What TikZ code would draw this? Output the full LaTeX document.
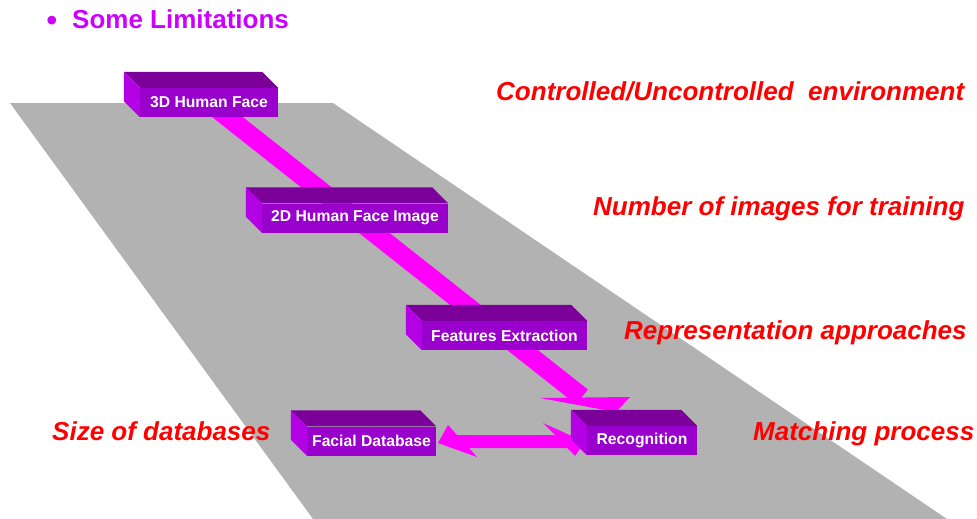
\documentclass[tikz,border=0pt]{standalone}
\usepackage{fontspec}
\setmainfont{Liberation Sans}
\usetikzlibrary{calc}
\definecolor{plane}{RGB}{178,178,178}
\definecolor{boxtop}{RGB}{122,0,153}
\definecolor{boxfront}{RGB}{153,0,204}
\definecolor{boxside}{RGB}{180,0,228}
\definecolor{arrowmag}{RGB}{255,0,255}
\definecolor{titlecol}{RGB}{204,0,255}
\definecolor{notered}{RGB}{255,0,0}
\pgfdeclarelayer{planelayer}
\pgfdeclarelayer{flowlayer}
\pgfsetlayers{planelayer,flowlayer,main}
\newcommand\myprism[1]{%
  \fill[boxtop] (#1.north west) -- (#1.north east) -- ++(-16,-16) -- ($(#1.north west)+(-16,-16)$) -- cycle;
  \fill[boxside] (#1.north west) -- (#1.south west) -- ++(-16,-16) -- ($(#1.north west)+(-16,-16)$) -- cycle;}
\begin{document}
\begin{tikzpicture}[x=1pt,y=-1pt,
  face/.style={fill=boxfront, draw=none, minimum height=29pt, inner sep=0pt, text=white,
    font=\bfseries\fontsize{15.7}{18}\selectfont},
  note/.style={text=notered, font=\bfseries\itshape\fontsize{26}{30}\selectfont, anchor=base west, inner sep=0pt},
  flow/.style={fill=arrowmag, draw=none},
  shaft/.style={draw=arrowmag, line width=19pt}]
\useasboundingbox (0,0) rectangle (977,519);

% plane
\begin{pgfonlayer}{planelayer}
\fill[plane] (10,103) -- (333,103) -- (947,519) -- (313,519) -- cycle;
\end{pgfonlayer}

% title
\node[text=titlecol, font=\bfseries\fontsize{30}{34}\selectfont, anchor=base, inner sep=0pt] (bul) at (52,31) {•};
\node[text=titlecol, font=\bfseries\fontsize{26}{30}\selectfont, anchor=base west, inner sep=0pt] (title) at (72,29) {Some Limitations};

% boxes
\node[face, minimum width=138pt] (f1) at (209,102.5) {3D Human Face};
\node[face, minimum width=186pt] (f2) at (355,218) {2D Human Face Image};
\node[face, minimum width=165pt] (f3) at (504.5,335.5) {Features Extraction};
\node[face, minimum width=110pt] (f4) at (642,440.5) {Recognition};
\node[face, minimum width=129pt] (f5) at (371.5,441) {Facial Database};
\myprism{f1}
\myprism{f2}
\myprism{f3}
\myprism{f4}
\myprism{f5}

% flows
\coordinate (hb) at (582,397);
\coordinate (hl) at (540,398);
\coordinate (hr) at (630,397);
\coordinate (ht) at (616,412);
\coordinate (tipL) at (438,443);
\coordinate (bLu) at (448,425);
\coordinate (sLt) at (457,435);
\coordinate (sRt) at (555,435);
\coordinate (bRu) at (543,423);
\coordinate (tipR) at (585,442);
\coordinate (bRl) at (575,456);
\coordinate (sRb) at (567,448);
\coordinate (sLb) at (469,448);
\coordinate (bLl) at (477,457);
\begin{pgfonlayer}{flowlayer}
\draw[shaft] (f1.center) -- (hb);
\fill[flow] (hl) -- (hr) -- (ht) -- cycle;
\fill[flow] (tipL) -- (bLu) -- (sLt) -- (sRt) -- (bRu) -- (tipR) -- (bRl) -- (sRb) -- (sLb) -- (bLl) -- cycle;
\end{pgfonlayer}

% notes
\node[note] (n1) at (496,100) {Controlled/Uncontrolled\ \ environment};
\node[note] (n2) at (593,215) {Number of images for training};
\node[note] (n3) at (624,339) {Representation approaches};
\node[note] (n4) at (52,440) {Size of databases};
\node[note] (n5) at (753,440) {Matching process};
\end{tikzpicture}
\end{document}
